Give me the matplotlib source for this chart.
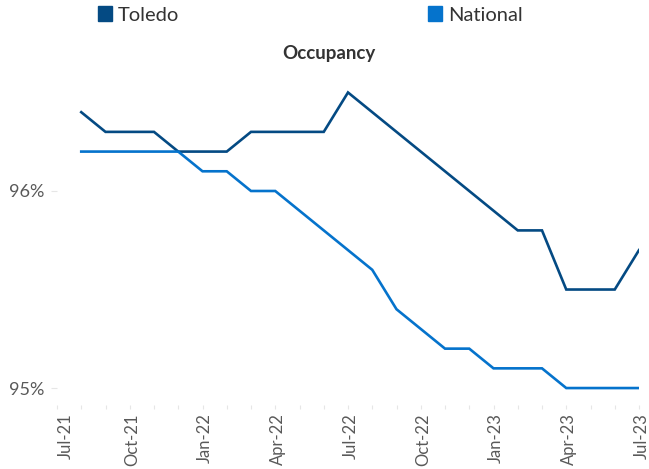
import numpy as np
import matplotlib.pyplot as plt
import matplotlib.transforms as mtransforms
from matplotlib.patches import Patch

plt.rcParams['font.family'] = ['Lato', 'DejaVu Sans']

# monthly categories, Jul-21 .. Jul-23 (first month has no value)
months = ['Jul-21', 'Aug-21', 'Sep-21', 'Oct-21', 'Nov-21', 'Dec-21',
          'Jan-22', 'Feb-22', 'Mar-22', 'Apr-22', 'May-22', 'Jun-22',
          'Jul-22', 'Aug-22', 'Sep-22', 'Oct-22', 'Nov-22', 'Dec-22',
          'Jan-23', 'Feb-23', 'Mar-23', 'Apr-23', 'May-23', 'Jun-23', 'Jul-23']
toledo = [np.nan, 96.4, 96.3, 96.3, 96.3, 96.2, 96.2, 96.2, 96.3, 96.3, 96.3, 96.3,
          96.5, 96.4, 96.3, 96.2, 96.1, 96.0, 95.9, 95.8, 95.8, 95.5, 95.5, 95.5, 95.7]
national = [np.nan, 96.2, 96.2, 96.2, 96.2, 96.2, 96.1, 96.1, 96.0, 96.0, 95.9, 95.8,
            95.7, 95.6, 95.4, 95.3, 95.2, 95.2, 95.1, 95.1, 95.1, 95.0, 95.0, 95.0, 95.0]

c_toledo = '#044a83'
c_national = '#0573cc'
grey = '#595959'

fig = plt.figure(figsize=(6.49, 4.69), dpi=100)
ax = fig.add_axes([57 / 649, 1 - 405 / 469, 582 / 649, 335 / 469])

x = np.arange(len(months))
ax.plot(x, toledo, color=c_toledo, lw=1.9, solid_joinstyle='miter')
ax.plot(x, national, color=c_national, lw=1.9, solid_joinstyle='miter')

ax.set_xlim(0, len(months) - 1)
ax.set_ylim(94.914, 96.614)
ax.set_yticks([95, 96])
ax.set_yticklabels(['95%', '96%'])
ax.set_xticks(x)
ax.set_xticklabels([m if i % 3 == 0 else '' for i, m in enumerate(months)],
                   rotation=90)

for s in ax.spines.values():
    s.set_visible(False)
ax.tick_params(axis='x', length=3, color='#e6e6e6', labelcolor=grey,
               labelsize=12, pad=3)
ax.tick_params(axis='y', length=4, color='#e6e6e6', labelcolor=grey,
               labelsize=13, pad=5)

# labels sit a little right of their ticks, the first one more so
for i, lbl in enumerate(ax.get_xticklabels()):
    dx = 0.09 if i == 0 else 0.025
    lbl.set_transform(lbl.get_transform() +
                      mtransforms.ScaledTranslation(dx, 0, fig.dpi_scale_trans))

fig.text(329 / 649, 1 - 53 / 469, 'Occupancy', ha='center', va='center',
         fontsize=13.5, fontweight='bold', color='#333333')

handles = [Patch(color=c_toledo, label='Toledo'),
           Patch(color=c_national, label='National')]
fig.legend(handles=handles, loc='center left', ncol=2,
           bbox_to_anchor=(98 / 649, 1 - 15 / 469), frameon=False,
           fontsize=14.5, handlelength=0.7, handleheight=0.7,
           handletextpad=0.3, columnspacing=12.35, labelcolor='#333333',
           borderaxespad=0, borderpad=0)

fig.savefig('out.png', dpi=100)
